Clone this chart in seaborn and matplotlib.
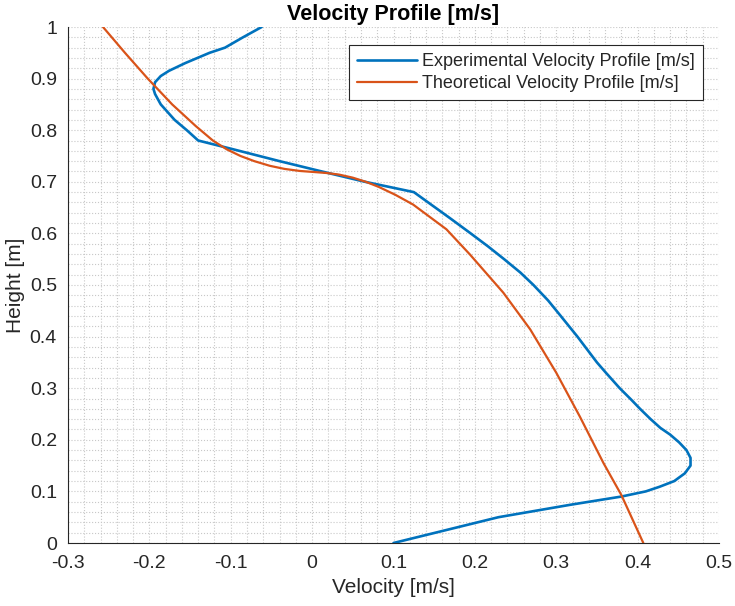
import numpy as np
import pandas as pd
import seaborn as sns
import matplotlib.pyplot as plt
from matplotlib.ticker import MultipleLocator

# Experimental profile (height [m] -> velocity [m/s])
exp_height = [0.00, 0.05, 0.074, 0.09, 0.10, 0.109, 0.12, 0.135, 0.15, 0.165,
              0.18, 0.195, 0.21, 0.223, 0.24, 0.26, 0.278, 0.30, 0.33, 0.35,
              0.40, 0.439, 0.47, 0.50, 0.524, 0.55, 0.575, 0.601, 0.63, 0.655,
              0.68, 0.70, 0.72, 0.74, 0.763, 0.78, 0.80, 0.82, 0.85, 0.87,
              0.88, 0.893, 0.905, 0.915, 0.93, 0.95, 0.96, 0.98, 1.00]
exp_velocity = [0.100, 0.229, 0.317, 0.380, 0.410, 0.427, 0.445, 0.458, 0.465, 0.465,
                0.460, 0.451, 0.440, 0.428, 0.416, 0.403, 0.392, 0.378, 0.361, 0.350,
                0.326, 0.306, 0.290, 0.272, 0.256, 0.236, 0.216, 0.194, 0.169, 0.147,
                0.125, 0.065, 0.012, -0.040, -0.097, -0.140, -0.154, -0.169, -0.186, -0.193,
                -0.195, -0.193, -0.186, -0.176, -0.156, -0.126, -0.107, -0.085, -0.062]

# Theoretical profile
theo_height = [0.00, 0.093, 0.155, 0.245, 0.330, 0.414, 0.485, 0.559, 0.608, 0.656,
               0.675, 0.69, 0.700, 0.708, 0.714, 0.717, 0.719, 0.721, 0.725, 0.731,
               0.740, 0.75, 0.763, 0.78, 0.808, 0.85, 0.885, 0.90, 0.95, 1.00]
theo_velocity = [0.407, 0.380, 0.358, 0.329, 0.300, 0.268, 0.235, 0.194, 0.165, 0.124,
                 0.102, 0.082, 0.066, 0.050, 0.033, 0.018, 0.002, -0.015, -0.034, -0.052,
                 -0.071, -0.088, -0.105, -0.122, -0.143, -0.172, -0.193, -0.202, -0.230, -0.257]

exp_df = pd.DataFrame({"Velocity": exp_velocity, "Height": exp_height})
theo_df = pd.DataFrame({"Velocity": theo_velocity, "Height": theo_height})

sns.set_style("white")
plt.rcParams['font.family'] = ['Liberation Sans', 'DejaVu Sans']

fig = plt.figure(figsize=(7.35, 6.06), dpi=100)
ax = fig.add_axes([68 / 735, 1 - 543 / 606, (719 - 68) / 735, (543 - 27) / 606])

sns.lineplot(data=exp_df, x="Velocity", y="Height", sort=False, estimator=None, ax=ax,
             color="#0072BD", linewidth=1.9, label="Experimental Velocity Profile [m/s]")
sns.lineplot(data=theo_df, x="Velocity", y="Height", sort=False, estimator=None, ax=ax,
             color="#D95319", linewidth=1.6, label="Theoretical Velocity Profile [m/s]")

ax.set_xlim(-0.3, 0.5)
ax.set_ylim(0, 1)
ax.xaxis.set_major_locator(MultipleLocator(0.1))
ax.yaxis.set_major_locator(MultipleLocator(0.1))
ax.xaxis.set_minor_locator(MultipleLocator(0.02))
ax.yaxis.set_minor_locator(MultipleLocator(0.02))
fmt = plt.FuncFormatter(lambda v, p: f"{v:g}" if abs(v) > 1e-9 else "0")
ax.xaxis.set_major_formatter(fmt)
ax.yaxis.set_major_formatter(fmt)

ax.grid(True, which='both', linestyle=':', color='#c8c8c8', linewidth=0.8)
ax.set_axisbelow(True)
ax.tick_params(which='major', direction='in', length=5, width=0.8, colors='#262626',
               labelsize=14)
ax.tick_params(axis='x', which='major', pad=9)
ax.tick_params(axis='y', which='major', pad=8)
ax.tick_params(which='minor', length=0)

for side in ['top', 'right']:
    ax.spines[side].set_visible(False)
for side in ['left', 'bottom']:
    ax.spines[side].set_color('#262626')
    ax.spines[side].set_linewidth(0.8)

ax.set_xlabel("Velocity [m/s]", fontsize=15, color='#262626', labelpad=4)
ax.set_ylabel("Height [m]", fontsize=15, color='#262626', labelpad=3)
ax.set_title("Velocity Profile [m/s]", fontsize=15.5, fontweight='bold', color='black', pad=5)

leg = ax.legend(loc='upper right', bbox_to_anchor=((703 - 68) / 651, (543 - 45) / 516),
                borderaxespad=0, fontsize=13, fancybox=False, framealpha=1,
                edgecolor='#262626', handlelength=3.3, handletextpad=0.3,
                borderpad=0.45, labelspacing=0.28)
leg.get_frame().set_linewidth(0.8)
for t in leg.get_texts():
    t.set_color('#262626')

fig.savefig("out.png", dpi=100)
